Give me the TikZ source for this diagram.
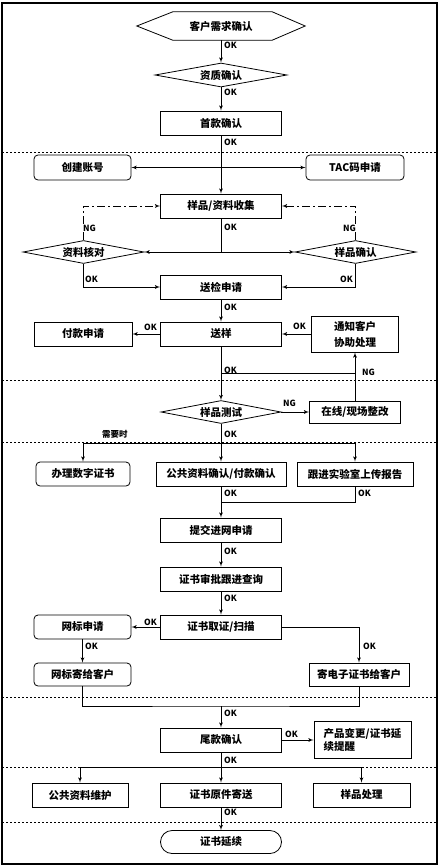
\documentclass[tikz,border=0pt]{standalone}
\usepackage{fontspec}
\setmainfont{Noto Sans CJK SC}
\usepackage{tikz}
\usetikzlibrary{positioning,shapes,arrows}

\newcommand{\flowfont}{\fontsize{10.5}{13}\selectfont\bfseries}
\newcommand{\tagfont}{\fontsize{8.5}{10}\selectfont\bfseries}

\tikzset{
	box/.style={rectangle, draw=black, line width=0.8pt, minimum height=24pt, inner sep=2pt, text centered, font=\flowfont},
	rbox/.style={box, rounded corners=4pt},
	decision/.style={diamond, draw=black, line width=0.8pt, aspect=5, inner sep=0pt, minimum height=23pt, font=\flowfont},
	tag/.style={inner sep=1pt, font=\tagfont},
	flow/.style={line width=0.8pt, -latex'},
	ngflow/.style={line width=0.8pt, -latex', dash pattern=on 8pt off 3pt on 2pt off 3pt},
	sepline/.style={line width=0.6pt, dash pattern=on 2pt off 2pt}
}

\begin{document}
\begin{tikzpicture}
	\useasboundingbox (0,0) rectangle (441pt,-868pt);
	\draw[line width=2pt] (2pt,-3pt) rectangle (437pt,-864pt);

	% section lines
	\draw[sepline] (2pt,-152pt) -- (437pt,-152pt);
	\draw[sepline] (2pt,-380pt) -- (437pt,-380pt);
	\draw[sepline] (2pt,-442pt) -- (437pt,-442pt);
	\draw[sepline] (2pt,-697pt) -- (437pt,-697pt);
	\draw[sepline] (2pt,-767pt) -- (437pt,-767pt);
	\draw[sepline] (2pt,-822pt) -- (437pt,-822pt);

	% main column
	\node[font=\flowfont, minimum width=168pt, minimum height=28pt] (cust) at (221pt,-26pt) {客户需求确认};
	\draw[line width=0.8pt] (cust.west) -- ([xshift=36pt]cust.north west) -- ([xshift=-33pt]cust.north east) -- (cust.east) -- ([xshift=-33pt]cust.south east) -- ([xshift=36pt]cust.south west) -- cycle;

	\node[below of=cust, node distance=49pt, decision, minimum width=132pt, minimum height=24pt] (qual) {资质确认};
	\node[below of=qual, node distance=48pt, box, minimum width=121pt] (first) {首款确认};
	\node[below of=first, node distance=83pt, box, minimum width=121pt] (collect) {样品/资料收集};
	\node[below of=collect, node distance=81pt, box, minimum width=121pt] (insp) {送检申请};
	\node[below of=insp, node distance=47pt, box, minimum width=121pt] (send) {送样};
	\node[below of=send, node distance=78pt, decision, minimum width=120pt] (test) {样品测试};
	\node[below of=test, node distance=62pt, box, minimum width=130pt] (pub) {公共资料确认/付款确认};
	\node[below of=pub, node distance=56pt, box, minimum width=121pt] (submit) {提交进网申请};
	\node[below of=submit, node distance=49pt, box, minimum width=121pt] (track) {证书审批跟进查询};
	\node[below of=track, node distance=48pt, box, minimum width=121pt] (scan) {证书取证/扫描};
	\node[below of=scan, node distance=113pt, box, minimum width=121pt] (tail) {尾款确认};
	\node[below of=tail, node distance=55pt, box, minimum width=121pt] (orig) {证书原件寄送};
	\node[below of=orig, node distance=47pt, box, minimum width=121pt, minimum height=23pt, rounded corners=11.5pt] (renew) {证书延续};

	% side nodes
	\node[rbox, minimum width=97pt, minimum height=25pt] (acct) at (82.5pt,-167.5pt) {创建账号};
	\node[right of=acct, node distance=272.5pt, rbox, minimum width=98pt, minimum height=25pt] (tac) {TAC码申请};
	\node[decision, minimum width=121pt] (datachk) at (83.5pt,-252pt) {资料核对};
	\node[right of=datachk, node distance=272pt, decision, minimum width=121pt] (samplechk) {样品确认};
	\node[left of=send, node distance=138pt, box, minimum width=98pt] (pay) {付款申请};
	\node[right of=send, node distance=134pt, box, minimum width=87pt, minimum height=36pt, align=center] (notify) {通知客户\\[3pt]协助处理};
	\node[right of=test, node distance=134pt, box, minimum width=91pt, minimum height=22pt] (fix) {在线/现场整改};
	\node[left of=pub, node distance=138pt, rbox, minimum width=94pt] (cert) {办理数字证书};
	\node[right of=pub, node distance=134pt, box, minimum width=116pt] (lab) {跟进实验室上传报告};
	\node[left of=scan, node distance=138.5pt, rbox, minimum width=97pt] (mark) {网标申请};
	\node[below of=mark, node distance=47.5pt, rbox, minimum width=97pt, minimum height=23pt] (markmail) {网标寄给客户};
	\node[right of=markmail, node distance=276.5pt, box, minimum width=100pt, minimum height=23pt] (emailcert) {寄电子证书给客户};
	\node[right of=tail, node distance=141.5pt, box, minimum width=97pt, minimum height=37pt, align=left] (remind) {产品变更/证书延\\续提醒};
	\node[left of=orig, node distance=141pt, box, minimum width=96pt] (maint) {公共资料维护};
	\node[right of=orig, node distance=140.5pt, box, minimum width=97pt] (sample) {样品处理};

	% junction points
	\coordinate (sendjoin) at (221pt,-373pt);
	\coordinate (fixjoin) at (355pt,-373pt);
	\coordinate (fork1) at (221pt,-443pt);
	\coordinate (labjoin) at (221pt,-502pt);
	\coordinate (join2) at (221pt,-706pt);
	\coordinate (fork3) at (221pt,-767pt);

	% connectors
	\draw[flow] (cust) -- (qual);
	\draw[flow] (qual) -- (first);
	\draw[flow] (first) -- (collect);
	\draw[line width=0.8pt, latex'-latex'] (acct) -- (tac);
	\draw[flow] (collect) |- (datachk);
	\draw[flow] (collect) |- (samplechk);
	\draw[ngflow] (datachk) |- (collect);
	\draw[ngflow] (samplechk) |- (collect);
	\draw[flow] (datachk) |- (insp);
	\draw[flow] (samplechk) |- (insp);
	\draw[flow] (insp) -- (send);
	\draw[flow] (send) -- (pay);
	\draw[flow] (notify) -- (send);
	\draw[flow] (send) -- (test);
	\draw[line width=0.8pt] (sendjoin) -- (fixjoin);
	\draw[flow] (test) -- (fix);
	\draw[flow] (fix) -- (notify);
	\draw[flow] (test) -- (pub);
	\draw[flow] (fork1) -| (cert);
	\draw[flow] (fork1) -| (lab);
	\draw[line width=0.8pt] (lab) |- (labjoin);
	\draw[flow] (pub) -- (submit);
	\draw[flow] (submit) -- (track);
	\draw[flow] (track) -- (scan);
	\draw[flow] (scan) -- (mark);
	\draw[flow] (scan) -| (emailcert);
	\draw[flow] (mark) -- (markmail);
	\draw[line width=0.8pt] (markmail) |- (join2) -| (emailcert);
	\draw[flow] (join2) -- (tail);
	\draw[flow] (tail) -- (remind);
	\draw[flow] (tail) -- (orig);
	\draw[flow] (fork3) -| (maint);
	\draw[flow] (fork3) -| (sample);
	\draw[flow] (orig) -- (renew);

	% labels
	\node[tag, anchor=west] (ok1) at (223pt,-45pt) {OK};
	\node[tag, anchor=west] (ok2) at (223pt,-92pt) {OK};
	\node[tag, anchor=west] (ok3) at (223pt,-142pt) {OK};
	\node[tag, anchor=west] (ok4) at (223pt,-227pt) {OK};
	\node[tag, anchor=west, fill=white] (ng1) at (82pt,-228pt) {NG};
	\node[tag, anchor=east, fill=white] (ng2) at (357pt,-228pt) {NG};
	\node[tag, anchor=west] (ok5) at (84pt,-279pt) {OK};
	\node[tag, anchor=east] (ok6) at (354pt,-279pt) {OK};
	\node[tag, anchor=west] (ok7) at (223pt,-307pt) {OK};
	\node[tag, anchor=west] (ok8) at (143pt,-327pt) {OK};
	\node[tag, anchor=west] (ok9) at (292pt,-326pt) {OK};
	\node[tag, anchor=west] (ok10) at (223pt,-370pt) {OK};
	\node[tag, anchor=west] (ng3) at (361pt,-372pt) {NG};
	\node[tag, anchor=west] (ng4) at (282pt,-403pt) {NG};
	\node[tag, anchor=west] (ok11) at (223pt,-434pt) {OK};
	\node[tag, anchor=west] (need) at (101pt,-434pt) {需要时};
	\node[tag, anchor=west] (ok12) at (223pt,-493pt) {OK};
	\node[tag, anchor=west] (ok13) at (357pt,-493pt) {OK};
	\node[tag, anchor=west] (ok14) at (223pt,-551pt) {OK};
	\node[tag, anchor=west] (ok15) at (223pt,-598pt) {OK};
	\node[tag, anchor=west] (ok16) at (143pt,-622pt) {OK};
	\node[tag, anchor=west] (ok17) at (362pt,-646pt) {OK};
	\node[tag, anchor=west] (ok18) at (84pt,-646pt) {OK};
	\node[tag, anchor=west] (ok19) at (223pt,-713pt) {OK};
	\node[tag, anchor=west] (ok20) at (284pt,-734pt) {OK};
	\node[tag, anchor=west] (ok21) at (223pt,-760pt) {OK};
	\node[tag, anchor=west] (ok22) at (223pt,-812pt) {OK};
\end{tikzpicture}
\end{document}
